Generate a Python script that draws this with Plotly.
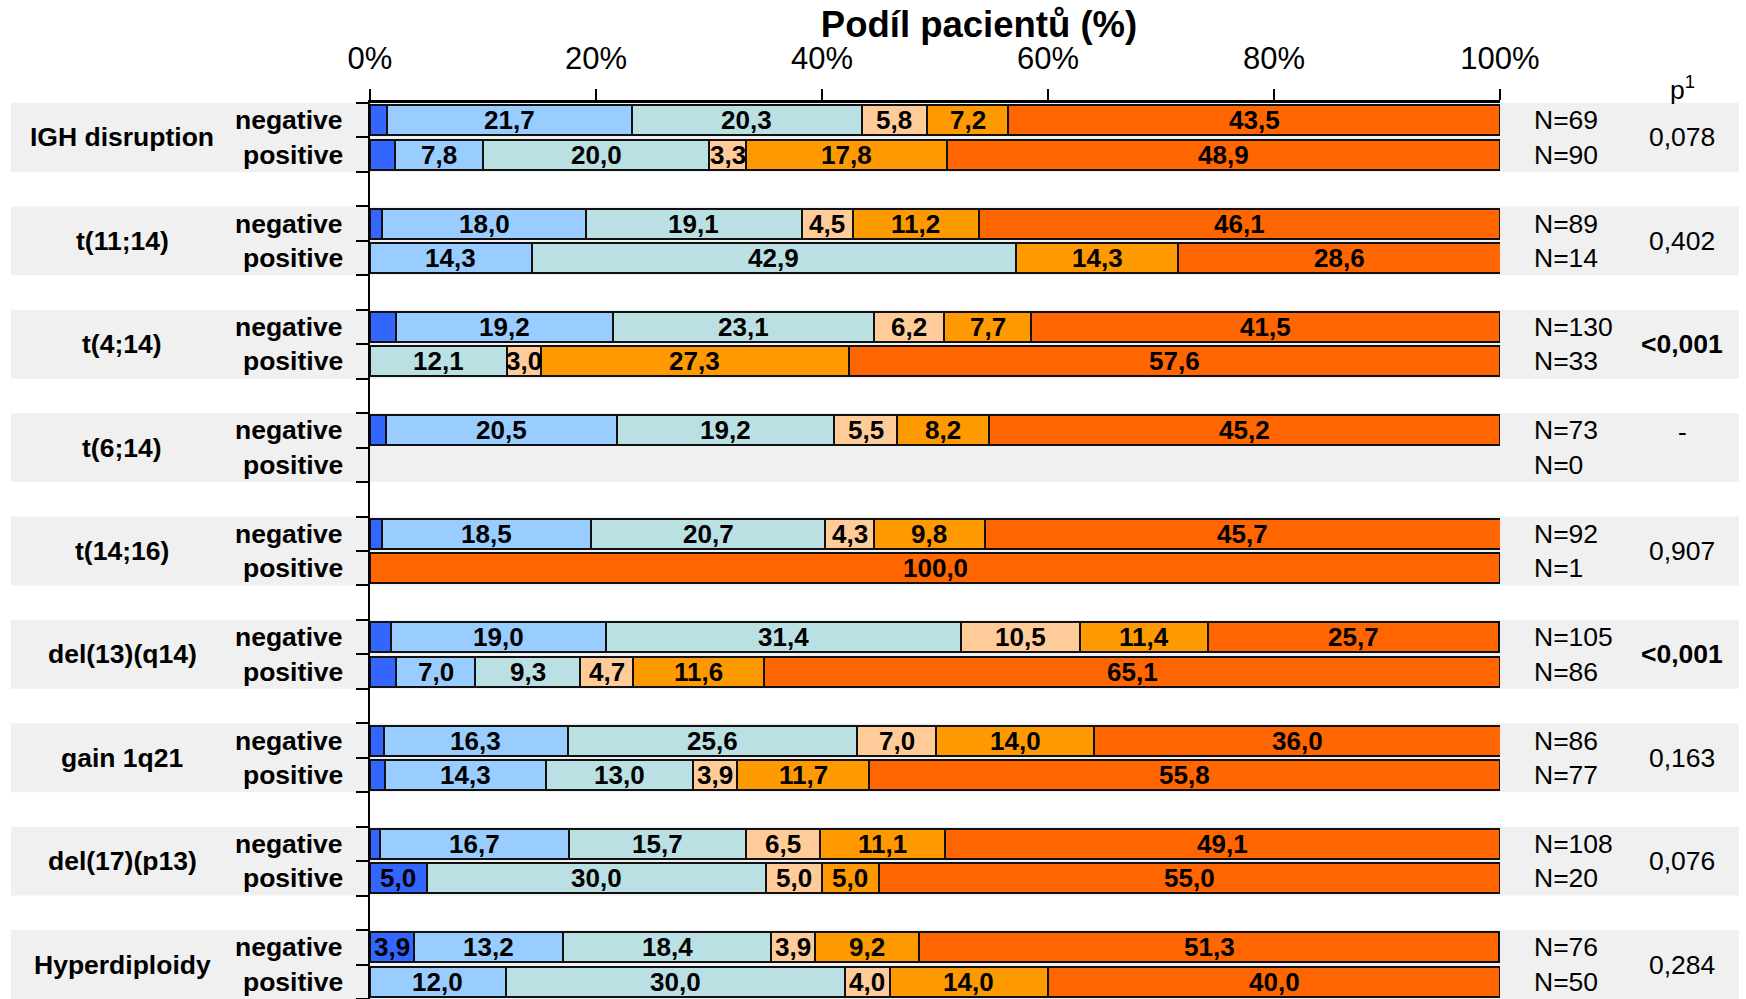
import plotly.graph_objects as go

# Cytogenetic groups; each has a "negative" and a "positive" bar
groups = ["IGH disruption", "t(11;14)", "t(4;14)", "t(6;14)", "t(14;16)",
          "del(13)(q14)", "gain 1q21", "del(17)(p13)", "Hyperdiploidy"]
status = ["negative", "positive"]

# Share of patients (%) per response category, ordered group by group: neg, pos
dark_blue = [1.5, 2.2, 1.1, None, 2.3, None, 1.4, None, 1.1, None,
             1.9, 2.3, 1.2, 1.3, 0.9, 5.0, 3.9, None]
light_blue = [21.7, 7.8, 18.0, 14.3, 19.2, None, 20.5, None, 18.5, None,
              19.0, 7.0, 16.3, 14.3, 16.7, None, 13.2, 12.0]
teal = [20.3, 20.0, 19.1, 42.9, 23.1, 12.1, 19.2, None, 20.7, None,
        31.4, 9.3, 25.6, 13.0, 15.7, 30.0, 18.4, 30.0]
peach = [5.8, 3.3, 4.5, None, 6.2, 3.0, 5.5, None, 4.3, None,
         10.5, 4.7, 7.0, 3.9, 6.5, 5.0, 3.9, 4.0]
orange = [7.2, 17.8, 11.2, 14.3, 7.7, 27.3, 8.2, None, 9.8, None,
          11.4, 11.6, 14.0, 11.7, 11.1, 5.0, 9.2, 14.0]
dark_orange = [43.5, 48.9, 46.1, 28.6, 41.5, 57.6, 45.2, None, 45.7, 100.0,
               25.7, 65.1, 36.0, 55.8, 49.1, 55.0, 51.3, 40.0]

n_labels = ["N=69", "N=90", "N=89", "N=14", "N=130", "N=33", "N=73", "N=0",
            "N=92", "N=1", "N=105", "N=86", "N=86", "N=77", "N=108", "N=20",
            "N=76", "N=50"]
p_values = ["0,078", "0,402", "<0,001", "-", "0,907", "<0,001", "0,163",
            "0,076", "0,284"]
x_ticks = [0, 20, 40, 60, 80, 100]

series = [dark_blue, light_blue, teal, peach, orange, dark_orange]
colors = ["#3366FF", "#99CCFF", "#BAE0E3", "#FFCC99", "#FF9900", "#FF6600"]

FONT = "Liberation Sans, Arial, sans-serif"
TXT = 26.5

# Row positions: two bars per group, then an empty spacer row
rows = []
for g in range(len(groups)):
    rows += [3 * g, 3 * g + 1]
n_rows = 3 * (len(groups) - 1) + 2

fig = go.Figure()
for vals, col in zip(series, colors):
    fig.add_trace(go.Bar(
        y=rows, x=vals, orientation="h", width=0.87,
        marker=dict(color=col, line=dict(color="#111111", width=2)),
        hoverinfo="skip", showlegend=False,
    ))

annotations = []

# Value labels centred in each segment
base = [0.0] * len(rows)
for vals in series:
    for i, v in enumerate(vals):
        if v is None:
            continue
        if v >= 2.5:
            annotations.append(dict(
                x=base[i] + v / 2, y=rows[i], xref="x", yref="y",
                text="<b>%s</b>" % ("%.1f" % v).replace(".", ","),
                showarrow=False, font=dict(family=FONT, size=26, color="black"),
                xanchor="center", yanchor="middle"))
        base[i] += v

L, R, T = 370, 1500, 103
W = R - L


def px_to_paper(px):
    return (px - L) / W


shapes = []
for g, name in enumerate(groups):
    top = 3 * g - 0.5
    shapes.append(dict(type="rect", xref="paper", yref="y", layer="below",
                       x0=px_to_paper(11), x1=px_to_paper(1739),
                       y0=top, y1=top + 2, fillcolor="#F0F0F0", line_width=0))
    annotations.append(dict(
        x=px_to_paper(122), y=3 * g + 0.5, xref="paper", yref="y",
        text="<b>%s</b>" % name, showarrow=False,
        font=dict(family=FONT, size=TXT, color="black"),
        xanchor="center", yanchor="middle"))
    for k, st in enumerate(status):
        annotations.append(dict(
            x=px_to_paper(345), y=3 * g + k, xref="paper", yref="y",
            text="<b>%s</b>" % st, showarrow=False,
            font=dict(family=FONT, size=TXT, color="black"),
            xanchor="right", yanchor="middle"))
        annotations.append(dict(
            x=px_to_paper(1532), y=3 * g + k, xref="paper", yref="y",
            text=n_labels[2 * g + k], showarrow=False,
            font=dict(family=FONT, size=TXT, color="black"),
            xanchor="left", yanchor="middle"))
    p = p_values[g]
    annotations.append(dict(
        x=px_to_paper(1682), y=3 * g + 0.5, xref="paper", yref="y",
        text="<b>%s</b>" % p.replace("<", "&lt;") if p.startswith("<") else p,
        showarrow=False, font=dict(family=FONT, size=TXT, color="black"),
        xanchor="center", yanchor="middle",
        yshift=16 if p == "-" else 0))

# p-value column header
annotations.append(dict(
    x=px_to_paper(1682), y=1 + (T - 88) / (999 - T), xref="paper", yref="paper",
    text="p<sup>1</sup>", showarrow=False,
    font=dict(family=FONT, size=TXT, color="black"),
    xanchor="center", yanchor="middle"))

fig.update_layout(
    width=1746, height=999,
    margin=dict(l=L, r=1746 - R, t=T, b=0, pad=0),
    barmode="stack", bargap=0,
    paper_bgcolor="white", plot_bgcolor="rgba(0,0,0,0)",
    title=dict(text="<b>Podíl pacientů (%)</b>", x=979 / 1746, xref="container",
               xanchor="center", y=1 - 24 / 999, yref="container",
               yanchor="middle", font=dict(family=FONT, size=36.5, color="black")),
    shapes=shapes, annotations=annotations,
    xaxis=dict(side="top", range=[0, 100], tickvals=x_ticks,
               ticktext=["%d%%" % t for t in x_ticks],
               tickfont=dict(family=FONT, size=31, color="black"),
               ticks="outside", ticklen=11, tickwidth=2, tickcolor="black",
               ticklabelstandoff=8,
               showline=True, linecolor="black", linewidth=3,
               showgrid=False, zeroline=False),
    yaxis=dict(range=[n_rows - 0.5, -0.5],
               tickvals=[k - 0.5 for k in range(n_rows + 1)],
               showticklabels=False, ticks="outside", ticklen=12, tickwidth=2,
               tickcolor="black", showline=True, linecolor="black",
               linewidth=2, showgrid=False, zeroline=False),
)

fig.write_html("out.html")
